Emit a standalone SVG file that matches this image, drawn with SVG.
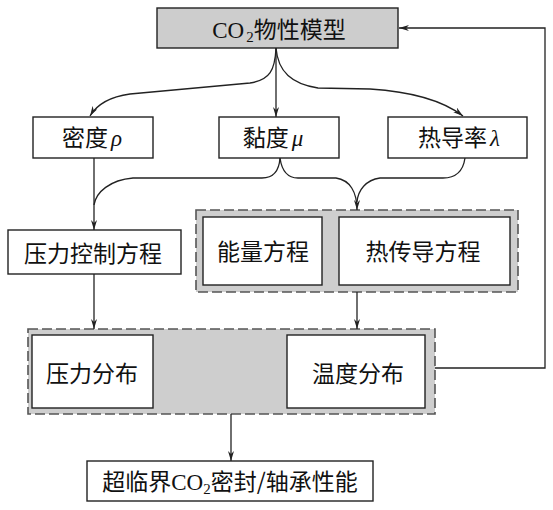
<svg xmlns="http://www.w3.org/2000/svg" width="553" height="510" viewBox="0 0 553 510">
<defs>
<style>
.box{fill:#fff;stroke:#222;stroke-width:1.4}
.top{fill:#cdcdcd;stroke:#222;stroke-width:1.4}
.grp{fill:#cecece;stroke:#555;stroke-width:1.6;stroke-dasharray:10 4}
.t{font-family:"Noto Sans CJK SC","Liberation Serif",serif;font-size:23px;font-weight:normal;fill:#111;text-anchor:middle}
.lat{font-family:"Liberation Serif",serif;font-weight:normal}
.gr{font-family:"Liberation Serif",serif;font-style:italic;font-weight:normal}
.c{fill:none;stroke:#222;stroke-width:1.3}
</style>
<marker id="ah" viewBox="0 0 10 6" refX="10" refY="3" markerWidth="10" markerHeight="6" markerUnits="userSpaceOnUse" orient="auto">
<path d="M0,0 L10,3 L0,6 L3,3 Z" fill="#222"/>
</marker>
</defs>

<g id="model">
<rect class="top" x="157" y="8" width="241" height="40"/>
<text class="t" x="279" y="38"><tspan class="lat">CO</tspan><tspan class="lat" font-size="15" dx="2" dy="4">2</tspan><tspan dy="-4">物性模型</tspan></text>
</g>

<g id="density">
<rect class="box" x="33" y="117" width="120" height="41"/>
<text class="t" x="92" y="146">密度<tspan class="gr" dx="3">ρ</tspan></text>
</g>
<g id="viscosity">
<rect class="box" x="219" y="117" width="120" height="41"/>
<text class="t" x="273" y="146">黏度<tspan class="gr" dx="3">μ</tspan></text>
</g>
<g id="conductivity">
<rect class="box" x="388" y="117" width="139" height="41"/>
<text class="t" x="459" y="146">热导率<tspan class="gr" dx="3">λ</tspan></text>
</g>

<g id="pressure-eq">
<rect class="box" x="8" y="230" width="173" height="44"/>
<text class="t" x="93" y="262">压力控制方程</text>
</g>

<g id="energy-group">
<rect class="grp" x="196" y="210" width="322" height="82"/>
<g id="energy-eq">
<rect class="box" x="203" y="217" width="119" height="68"/>
<text class="t" x="263" y="260">能量方程</text>
</g>
<g id="heat-eq">
<rect class="box" x="339" y="217" width="171" height="68"/>
<text class="t" x="423" y="260">热传导方程</text>
</g>
</g>

<g id="distribution-group">
<rect class="grp" x="28" y="329" width="407" height="85"/>
<g id="pressure-dist">
<rect class="box" x="32" y="335" width="121" height="73"/>
<text class="t" x="92" y="382">压力分布</text>
</g>
<g id="temp-dist">
<rect class="box" x="287" y="335" width="138" height="73"/>
<text class="t" x="358" y="382">温度分布</text>
</g>
</g>

<g id="performance">
<rect class="box" x="87" y="461" width="286" height="40"/>
<text class="t" x="230" y="490">超临界<tspan class="lat">CO</tspan><tspan class="lat" font-size="15" dy="4">2</tspan><tspan dy="-4">密封/轴承性能</tspan></text>
</g>

<g id="connectors">
<path class="c" marker-end="url(#ah)" d="M276,48 C275,70 270,80 250,83 L130,94 C108,97 96,106 90,116"/>
<path class="c" marker-end="url(#ah)" d="M276,48 V117"/>
<path class="c" marker-end="url(#ah)" d="M276,48 C278,72 292,84 318,88 L370,89 C418,92 446,103 463,116"/>
<path class="c" marker-end="url(#ah)" d="M94,158 V230"/>
<path class="c" d="M280,158 C279,172 273,178 262,178 L133,178 C110,180 96,192 94,205"/>
<path class="c" marker-end="url(#ah)" d="M280,158 C282,172 288,178 298,178 L336,178 C350,180 357,192 357,210"/>
<path class="c" d="M465,158 C463,172 456,178 443,178 L380,178 C366,180 358,190 357,202"/>
<path class="c" marker-end="url(#ah)" d="M94,274 V329"/>
<path class="c" marker-end="url(#ah)" d="M357,292 V329"/>
<path class="c" marker-end="url(#ah)" d="M231,414 V461"/>
<path class="c" marker-end="url(#ah)" d="M435,368 H545 V28 H399"/>
</g>
</svg>
